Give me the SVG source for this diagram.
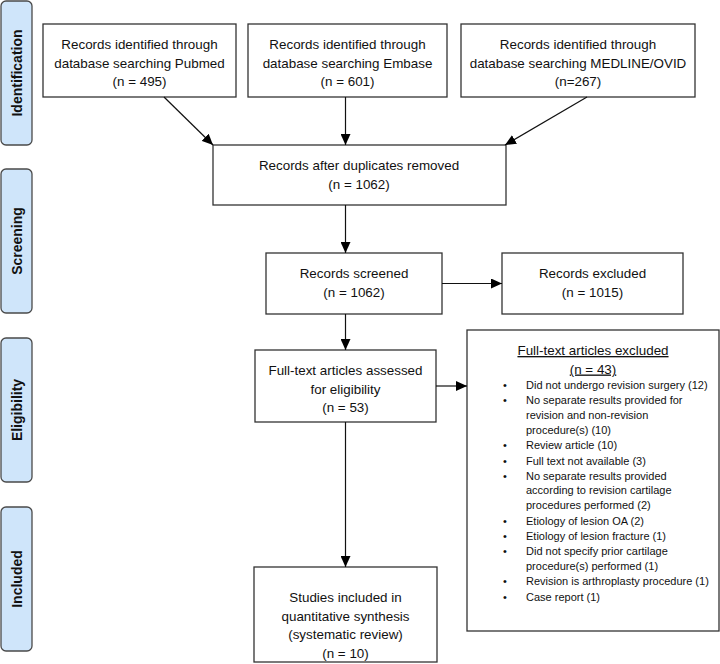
<svg xmlns="http://www.w3.org/2000/svg" width="720" height="664" viewBox="0 0 720 664">
<style>
.bg{fill:#fff}
.phase{fill:#cfe5fa;stroke:#4a4a4a;stroke-width:1.3}
.ptxt{font-family:"Liberation Sans",Arial,sans-serif;font-size:14px;font-weight:bold;fill:#111;text-anchor:middle}
.box{fill:#fff;stroke:#333;stroke-width:1.3}
.t{font-family:"Liberation Sans",Arial,sans-serif;font-size:13.4px;fill:#111;text-anchor:middle}
.s{font-family:"Liberation Sans",Arial,sans-serif;font-size:11px;fill:#111}
.c{stroke:#111;stroke-width:1.2;fill:none;marker-end:url(#ah)}
</style>
<defs>
<marker id="ah" markerUnits="userSpaceOnUse" markerWidth="12" markerHeight="10" refX="11" refY="5" orient="auto">
<path d="M0,0 L11,5 L0,10 Z" fill="#000"/>
</marker>
</defs>
<rect class="bg" x="0" y="0" width="720" height="664"/>

<g id="phase-identification"><rect class="phase" x="1" y="1" width="31" height="144" rx="5"/><text class="ptxt" transform="translate(21.5,73) rotate(-90)">Identification</text></g>
<g id="phase-screening"><rect class="phase" x="1" y="169" width="31" height="144" rx="5"/><text class="ptxt" transform="translate(21.5,241) rotate(-90)">Screening</text></g>
<g id="phase-eligibility"><rect class="phase" x="1" y="338" width="31" height="144" rx="5"/><text class="ptxt" transform="translate(21.5,410) rotate(-90)">Eligibility</text></g>
<g id="phase-included"><rect class="phase" x="1" y="507" width="31" height="144" rx="5"/><text class="ptxt" transform="translate(21.5,579) rotate(-90)">Included</text></g>

<g id="pubmed"><rect class="box" x="43" y="24" width="193" height="73"/>
<text class="t" x="139.5" y="49">Records identified through</text>
<text class="t" x="139.5" y="67.5">database searching Pubmed</text>
<text class="t" x="139.5" y="86">(n = 495)</text></g>

<g id="embase"><rect class="box" x="248" y="24" width="199" height="73"/>
<text class="t" x="347.5" y="49">Records identified through</text>
<text class="t" x="347.5" y="67.5">database searching Embase</text>
<text class="t" x="347.5" y="86">(n = 601)</text></g>

<g id="medline"><rect class="box" x="461" y="24" width="234" height="73"/>
<text class="t" x="578" y="49">Records identified through</text>
<text class="t" x="578" y="67.5">database searching MEDLINE/OVID</text>
<text class="t" x="578" y="86">(n=267)</text></g>

<g id="duplicates"><rect class="box" x="213" y="145" width="293" height="60"/>
<text class="t" x="359" y="170">Records after duplicates removed</text>
<text class="t" x="359" y="188.5">(n = 1062)</text></g>

<g id="screened"><rect class="box" x="266" y="253" width="176" height="61"/>
<text class="t" x="354" y="278">Records screened</text>
<text class="t" x="354" y="297">(n = 1062)</text></g>

<g id="excluded"><rect class="box" x="502" y="253" width="181" height="61"/>
<text class="t" x="592.5" y="278">Records excluded</text>
<text class="t" x="592.5" y="297">(n = 1015)</text></g>

<g id="fulltext"><rect class="box" x="255" y="350" width="181" height="72"/>
<text class="t" x="345.5" y="375">Full-text articles assessed</text>
<text class="t" x="345.5" y="393.5">for eligibility</text>
<text class="t" x="345.5" y="412">(n = 53)</text></g>

<g id="fulltext-excluded"><rect class="box" x="467" y="330" width="252" height="301"/>
<text class="t" x="593" y="355" text-decoration="underline">Full-text articles excluded</text>
<text class="t" x="593" y="373.5" text-decoration="underline">(n = 43)</text>
<text class="s" x="503" y="389">•</text><text class="s" x="526" y="389">Did not undergo revision surgery (12)</text>
<text class="s" x="503" y="404">•</text><text class="s" x="526" y="404">No separate results provided for</text>
<text class="s" x="526" y="419">revision and non-revision</text>
<text class="s" x="526" y="434">procedure(s) (10)</text>
<text class="s" x="503" y="449">•</text><text class="s" x="526" y="449">Review article (10)</text>
<text class="s" x="503" y="464.5">•</text><text class="s" x="526" y="464.5">Full text not available (3)</text>
<text class="s" x="503" y="479.5">•</text><text class="s" x="526" y="479.5">No separate results provided</text>
<text class="s" x="526" y="494">according to revision cartilage</text>
<text class="s" x="526" y="509">procedures performed (2)</text>
<text class="s" x="503" y="524.5">•</text><text class="s" x="526" y="524.5">Etiology of lesion OA (2)</text>
<text class="s" x="503" y="539.5">•</text><text class="s" x="526" y="539.5">Etiology of lesion fracture (1)</text>
<text class="s" x="503" y="554.5">•</text><text class="s" x="526" y="554.5">Did not specify prior cartilage</text>
<text class="s" x="526" y="570">procedure(s) performed (1)</text>
<text class="s" x="503" y="585">•</text><text class="s" x="526" y="585">Revision is arthroplasty procedure (1)</text>
<text class="s" x="503" y="600.5">•</text><text class="s" x="526" y="600.5">Case report (1)</text></g>

<g id="studies"><rect class="box" x="254" y="567" width="183" height="95"/>
<text class="t" x="345.5" y="602">Studies included in</text>
<text class="t" x="345.5" y="620.5">quantitative synthesis</text>
<text class="t" x="345.5" y="639">(systematic review)</text>
<text class="t" x="345.5" y="657.5">(n = 10)</text></g>

<g id="connectors">
<line class="c" x1="164" y1="97" x2="213" y2="145"/>
<line class="c" x1="345.5" y1="97" x2="345.5" y2="145"/>
<line class="c" x1="587" y1="97" x2="505" y2="145"/>
<line class="c" x1="345.5" y1="205" x2="345.5" y2="253"/>
<line class="c" x1="442" y1="283.5" x2="502" y2="283.5"/>
<line class="c" x1="345.5" y1="314" x2="345.5" y2="350"/>
<line class="c" x1="436" y1="386" x2="467" y2="386"/>
<line class="c" x1="345.5" y1="422" x2="345.5" y2="567"/>
</g>
</svg>
